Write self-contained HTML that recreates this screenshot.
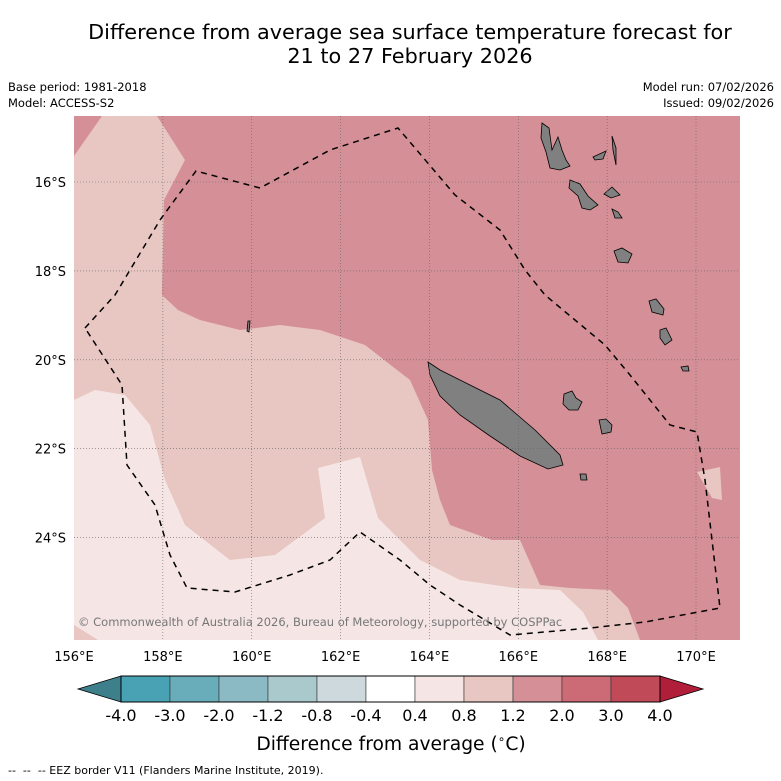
<!DOCTYPE html>
<html><head><meta charset="utf-8">
<style>
body{margin:0;background:#fff;font-family:"DejaVu Sans","Liberation Sans",sans-serif;}
svg{display:block}
text{font-family:"DejaVu Sans","Liberation Sans",sans-serif;}
</style></head>
<body>
<svg id="chart" width="781" height="781" viewBox="0 0 781 781" xmlns="http://www.w3.org/2000/svg">
<text x="410" y="39" font-size="20.8" text-anchor="middle">Difference from average sea surface temperature forecast for</text>
<text x="410" y="63" font-size="20.8" text-anchor="middle">21 to 27 February 2026</text>
<text x="8" y="91" font-size="11.5">Base period: 1981-2018</text>
<text x="8" y="107" font-size="11.5">Model: ACCESS-S2</text>
<text x="774" y="91" font-size="11.5" text-anchor="end">Model run: 07/02/2026</text>
<text x="774" y="107" font-size="11.5" text-anchor="end">Issued: 09/02/2026</text>
<defs><clipPath id="mapclip"><rect x="74" y="116" width="666" height="524"/></clipPath></defs>
<g id="map" clip-path="url(#mapclip)"></g>
<g id="axes"></g>
<g id="cbar"></g>
<text x="391" y="750" font-size="18.7" text-anchor="middle">Difference from average (<tspan font-size="12" dy="-7">∘</tspan><tspan dy="7">C)</tspan></text>
<text x="8" y="774" font-size="11" xml:space="preserve">--  --  -- EEZ border V11 (Flanders Marine Institute, 2019).</text>
</svg>
<script>
const NS='http://www.w3.org/2000/svg';
const cbLevels=['-4.0','-3.0','-2.0','-1.2','-0.8','-0.4','0.4','0.8','1.2','2.0','3.0','4.0'];
const cbColors=['#48a2b3','#6aadba','#8cbac4','#aac9cd','#cdd9dd','#ffffff','#f5e6e5','#e8c6c2','#d58f96','#cc6a75','#c04a58'];
const cbUnder='#3d808c', cbOver='#b01e3a';
const lonTicks=[156,158,160,162,164,166,168,170];
const latTicks=[16,18,20,22,24];
const lon0=156, lat0=16, px0=74, py0=182, dx=44.43, dy=44.45;
function xs(lon){return px0+(lon-lon0)*dx;}
function ys(lat){return py0+(lat-lat0)*dy;}
function mk(tag,attrs,parent){const e=document.createElementNS(NS,tag);for(const k in attrs)e.setAttribute(k,attrs[k]);parent.appendChild(e);return e;}
const map=document.getElementById('map'), axes=document.getElementById('axes'), cbar=document.getElementById('cbar');
function pts(a){return a.map(p=>p.join(',')).join(' ');}
let e=mk('rect',{x:74,y:116,width:666,height:524,fill:'#e8c6c2'},map);

const lightest=[[74,400],[95,390],[125,395],[150,425],[165,480],[185,525],[230,560],[275,555],[325,518],[318,468],[360,457],[378,518],[420,560],[460,580],[515,588],[560,590],[583,612],[598,640],[74,640]];
e=mk('polygon',{points:pts(lightest),fill:'#f5e6e5'},map);

e=mk('polygon',{points:pts([[74,625],[98,640],[74,640]]),fill:'#e8c6c2'},map);

const dark=[[157,116],[740,116],[740,640],[640,640],[628,608],[610,590],[570,588],[540,585],[520,540],[492,540],[450,525],[440,500],[432,470],[428,420],[410,380],[365,345],[320,330],[280,325],[240,330],[200,320],[178,310],[162,295],[164,200],[185,160]];
e=mk('polygon',{points:pts(dark),fill:'#d58f96'},map);

e=mk('polygon',{points:pts([[74,116],[102,116],[74,156]]),fill:'#d58f96'},map);

e=mk('polygon',{points:pts([[697,472],[720,467],[722,500],[712,498]]),fill:'#e8c6c2'},map);

const islands=[
 [[428,362],[440,370],[470,385],[500,400],[535,430],[560,455],[563,465],[548,469],[520,456],[490,436],[460,415],[440,396],[430,375]],
 [[542,123],[549,128],[552,150],[558,137],[562,150],[566,160],[570,166],[560,170],[550,168],[546,152],[541,138]],
 [[570,180],[580,184],[588,196],[598,205],[590,210],[582,208],[578,196],[569,188]],
 [[593,157],[606,151],[603,159],[595,160]],
 [[612,136],[616,148],[616,165],[613,150]],
 [[604,194],[612,187],[620,195],[611,198]],
 [[612,209],[618,212],[622,218],[615,218]],
 [[614,251],[622,248],[632,254],[628,263],[618,262]],
 [[649,301],[656,299],[664,309],[663,315],[652,312]],
 [[660,330],[666,328],[672,340],[665,345],[660,338]],
 [[681,367],[688,366],[689,371],[683,371]],
 [[564,394],[572,391],[576,398],[582,402],[578,410],[569,410],[563,404]],
 [[599,420],[606,419],[612,425],[611,432],[602,434]],
 [[580,474],[586,474],[587,480],[581,480]],
 [[248,321],[250,321],[249,332],[247,331]]
];
islands.forEach((p,i)=>{const el=mk('polygon',{points:pts(p),fill:'#808080',stroke:'#000','stroke-width':0.8},map);

});
lonTicks.slice(1).forEach(l=>{const el=mk('line',{x1:xs(l),x2:xs(l),y1:116,y2:640,stroke:'#666','stroke-width':0.6,'stroke-dasharray':'1,2'},map);

});
latTicks.forEach(l=>{const el=mk('line',{x1:74,x2:740,y1:ys(l),y2:ys(l),stroke:'#666','stroke-width':0.6,'stroke-dasharray':'1,2'},map);

});
const eez=[[85,328],[115,295],[160,220],[196,171],[260,188],[330,150],[398,128],[455,195],[500,230],[525,270],[545,295],[575,320],[605,345],[630,375],[670,425],[697,432],[705,480],[712,540],[720,608],[645,622],[590,628],[510,635],[460,605],[430,585],[400,560],[360,532],[330,560],[290,575],[235,592],[187,588],[170,555],[155,505],[127,465],[122,385],[85,328]];
e=mk('polyline',{points:pts(eez),fill:'none',stroke:'#000','stroke-width':1.5,'stroke-dasharray':'6,5'},map);

e=mk('text',{x:78,y:626,'font-size':11.5,fill:'#777'},map);e.textContent='© Commonwealth of Australia 2026, Bureau of Meteorology, supported by COSPPac';

lonTicks.forEach(l=>{const t=mk('text',{x:xs(l),y:661,'font-size':13,'text-anchor':'middle'},axes);t.textContent=l+'°E';

});
latTicks.forEach(l=>{const t=mk('text',{x:66,y:ys(l)+5,'font-size':13,'text-anchor':'end'},axes);t.textContent=l+'°S';

});
const cbX0=121, cbW=49, cbY=676, cbH=26;
function cx(i){return cbX0+i*cbW;}
e=mk('polygon',{points:pts([[78,cbY+cbH/2],[cx(0),cbY],[cx(0),cbY+cbH]]),fill:cbUnder,stroke:'#000','stroke-width':0.8},cbar);

cbColors.forEach((c,i)=>{const r=mk('rect',{x:cx(i),y:cbY,width:cbW,height:cbH,fill:c,stroke:'#333','stroke-width':0.6},cbar);

});
const n=cbColors.length;
e=mk('polygon',{points:pts([[cx(n),cbY],[703,cbY+cbH/2],[cx(n),cbY+cbH]]),fill:cbOver,stroke:'#000','stroke-width':0.8},cbar);

e=mk('rect',{x:cx(0),y:cbY,width:cbW*n,height:cbH,fill:'none',stroke:'#000','stroke-width':1},cbar);

cbLevels.forEach((l,i)=>{const t=mk('text',{x:cx(i),y:721,'font-size':16,'text-anchor':'middle'},cbar);t.textContent=l;

});
</script>
</body></html>
